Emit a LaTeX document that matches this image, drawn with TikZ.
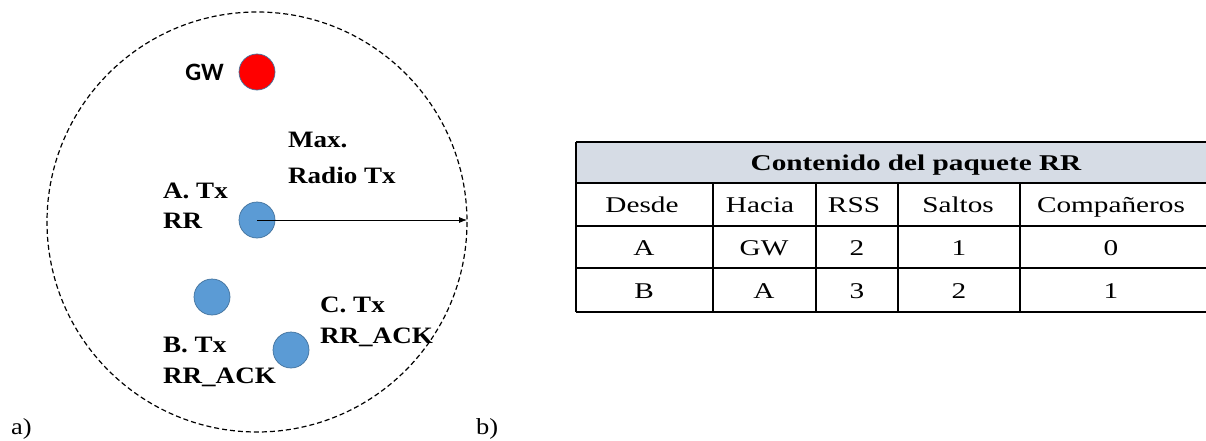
\documentclass[tikz,border=0pt]{standalone}
\usepackage{fontspec}
\newfontfamily\gwfont{Carlito}
\newfontfamily\tabfont[FakeStretch=1.3]{Liberation Serif}
\newfontfamily\lblfont[FakeStretch=1.15]{Liberation Serif}
\usetikzlibrary{arrows.meta}

\definecolor{moteblue}{HTML}{5B9BD5}
\definecolor{moteedge}{HTML}{41719C}
\definecolor{gwred}{HTML}{FF0000}
\definecolor{hdrfill}{HTML}{D6DCE5}

\tikzset{
  mote/.style={circle, draw=moteedge, fill=moteblue, line width=0.7pt, minimum size=36pt, inner sep=0pt},
  lbl/.style={font=\lblfont\bfseries\fontsize{23.5}{30}\selectfont, align=left, anchor=base west, inner sep=0pt},
  cell/.style={font=\tabfont\fontsize{22.5}{26}\selectfont, anchor=base, inner sep=0pt},
  tbl/.style={line width=1.6pt},
}

\begin{document}
\begin{tikzpicture}[x=1pt,y=-1pt]
  \useasboundingbox (0,0) rectangle (1206,441);

  % a) coverage of the gateway
  \draw[line width=1.2pt, dash pattern=on 5pt off 3pt] (257,222) circle (210);
  \node[mote, fill=gwred] (gw) at (257,72) {};
  \node[mote] (a) at (257,220) {};
  \node[mote] (b) at (212,297) {};
  \node[mote] (c) at (291,350) {};
  \coordinate (rim) at (467,220);
  \draw[-{Latex[length=8pt,width=6pt]}, line width=0.8pt] (a.center) -- (rim);

  \node[font=\gwfont\bfseries\fontsize{25}{30}\selectfont, anchor=base east, inner sep=0pt] (gwlbl) at (224,81) {GW};
  \node[lbl, font=\lblfont\bfseries\fontsize{23.5}{36}\selectfont] (radio) at (288,183) {Max.\\Radio Tx};
  \node[lbl] (albl) at (163,228) {A. Tx\\RR};
  \node[lbl, font=\lblfont\bfseries\fontsize{23.5}{31}\selectfont] (blbl) at (163,383) {B. Tx\\RR\_ACK};
  \node[lbl, font=\lblfont\bfseries\fontsize{23.5}{31}\selectfont] (clbl) at (320,343) {C. Tx\\RR\_ACK};

  \node[font=\lblfont\fontsize{23}{26}\selectfont, anchor=base west, inner sep=0pt] (tagA) at (11,434) {a)};
  \node[font=\lblfont\fontsize{23}{26}\selectfont, anchor=base west, inner sep=0pt] (tagB) at (476,434) {b)};

  % b) RR packet table
  \fill[hdrfill] (576,142) rectangle (1210,183);
  \draw[tbl] (576,142) -- (1210,142);
  \draw[tbl] (576,183) -- (1210,183);
  \draw[tbl] (576,226) -- (1210,226);
  \draw[tbl] (576,268) -- (1210,268);
  \draw[tbl] (576,312) -- (1210,312);
  \draw[tbl] (576,142) -- (576,312);
  \draw[tbl] (713,183) -- (713,312);
  \draw[tbl] (816,183) -- (816,312);
  \draw[tbl] (898,183) -- (898,312);
  \draw[tbl] (1020,183) -- (1020,312);

  \node[cell, font=\tabfont\bfseries\fontsize{22.5}{26}\selectfont] (title) at (916,170) {Contenido del paquete RR};
  \node[cell] (h1) at (642,212) {Desde};
  \node[cell] (h2) at (760,212) {Hacia};
  \node[cell] (h3) at (854,212) {RSS};
  \node[cell] (h4) at (958,212) {Saltos};
  \node[cell] (h5) at (1111,212) {Compañeros};
  \node[cell] (r1c1) at (644,255) {A};
  \node[cell] (r1c2) at (764,255) {GW};
  \node[cell] (r1c3) at (857,255) {2};
  \node[cell] (r1c4) at (959,255) {1};
  \node[cell] (r1c5) at (1111,255) {0};
  \node[cell] (r2c1) at (644,298) {B};
  \node[cell] (r2c2) at (764,298) {A};
  \node[cell] (r2c3) at (857,298) {3};
  \node[cell] (r2c4) at (959,298) {2};
  \node[cell] (r2c5) at (1111,298) {1};
\end{tikzpicture}
\end{document}
